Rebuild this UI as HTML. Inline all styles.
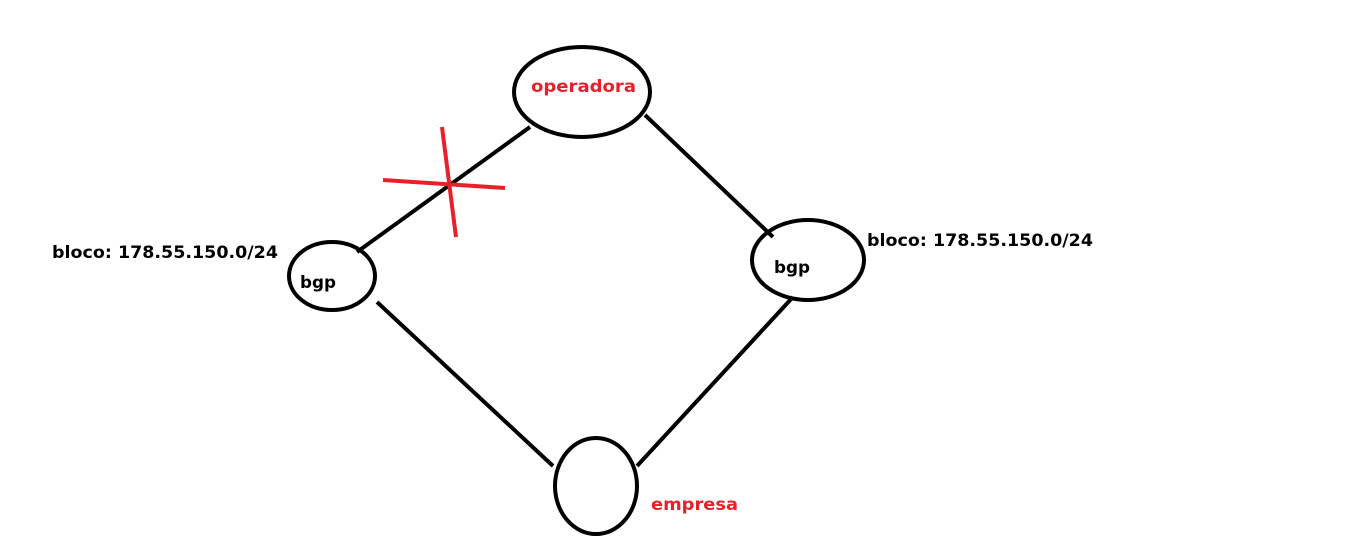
<!DOCTYPE html>
<html><head><style>
html,body{margin:0;padding:0;background:#fff;width:1360px;height:547px;overflow:hidden}
svg text{font-family:"DejaVu Sans","Liberation Sans",sans-serif;font-weight:bold}
</style></head><body>
<svg width="1360" height="547" viewBox="0 0 1360 547" xmlns="http://www.w3.org/2000/svg">
<g fill="none" stroke="#000" stroke-width="4">
<ellipse cx="582" cy="92" rx="68" ry="45"/>
<ellipse cx="332" cy="276" rx="43" ry="34"/>
<ellipse cx="808" cy="260" rx="56" ry="40"/>
<ellipse cx="596" cy="486" rx="41" ry="48"/>
<line x1="530" y1="127" x2="357" y2="252"/>
<line x1="645" y1="115" x2="773" y2="237"/>
<line x1="377" y1="302" x2="553" y2="466"/>
<line x1="793" y1="297" x2="637" y2="466"/>
</g>
<g stroke="#e8202a" stroke-width="4">
<line x1="383" y1="180" x2="505" y2="188"/>
<line x1="442" y1="127" x2="456" y2="237"/>
</g>
<text x="531" y="92" font-size="17" fill="#e8202a" textLength="105" lengthAdjust="spacingAndGlyphs">operadora</text>
<text x="651" y="510" font-size="17" fill="#e8202a" textLength="87" lengthAdjust="spacingAndGlyphs">empresa</text>
<text x="300" y="288" font-size="17" fill="#000" textLength="36" lengthAdjust="spacingAndGlyphs">bgp</text>
<text x="774" y="273" font-size="17" fill="#000" textLength="36" lengthAdjust="spacingAndGlyphs">bgp</text>
<text x="52" y="258" font-size="17" fill="#000" textLength="226" lengthAdjust="spacingAndGlyphs">bloco: 178.55.150.0/24</text>
<text x="867" y="246" font-size="17" fill="#000" textLength="226" lengthAdjust="spacingAndGlyphs">bloco: 178.55.150.0/24</text>
</svg>
</body></html>
